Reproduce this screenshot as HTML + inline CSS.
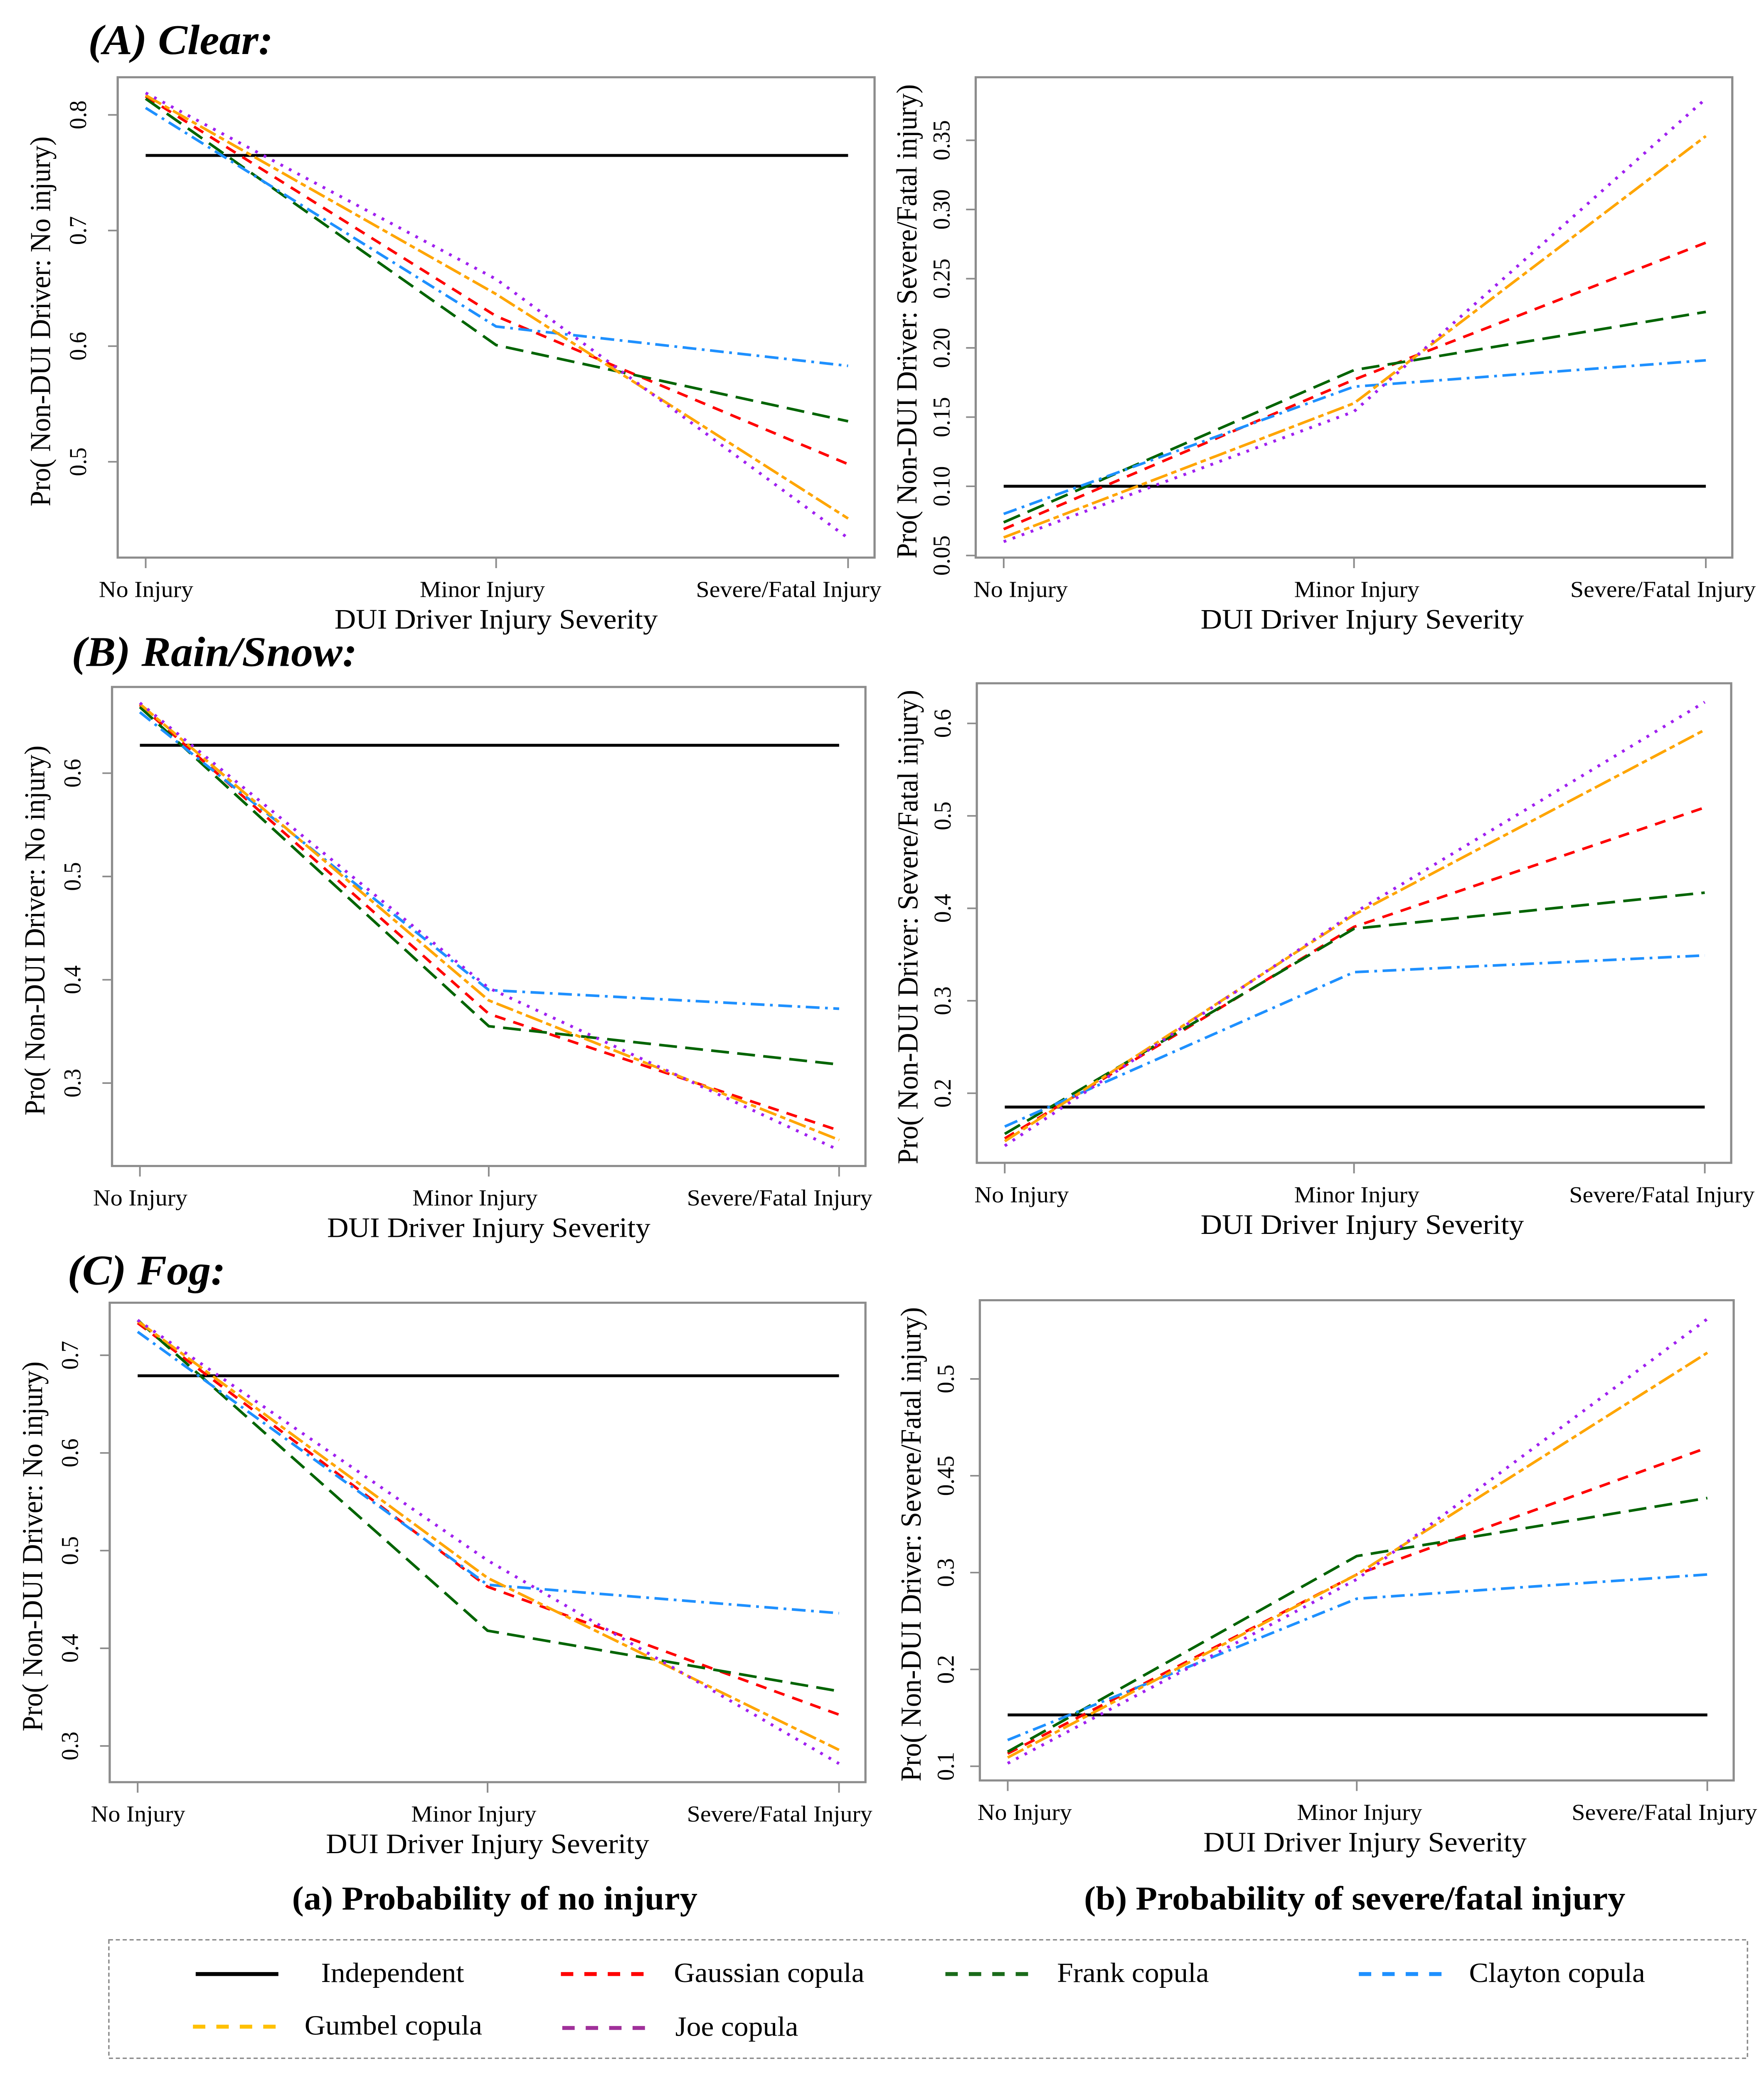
<!DOCTYPE html>
<html><head><meta charset="utf-8"><style>
html,body{margin:0;padding:0;background:#fff;width:100%;height:100%;overflow:hidden;}
svg{display:block;width:100vw;height:100vh;}
text{font-family:"Liberation Serif",serif;fill:#000;}
</style></head><body>
<svg id="fig" xmlns="http://www.w3.org/2000/svg" viewBox="0 0 1280 1579" preserveAspectRatio="none">
<rect x="0" y="0" width="1280" height="1579" fill="#fff"/>
<text x="64" y="41" font-size="32" font-weight="bold" font-style="italic">(A) Clear:</text>
<text x="52" y="506" font-size="32" font-weight="bold" font-style="italic">(B) Rain/Snow:</text>
<text x="49" y="976" font-size="32" font-weight="bold" font-style="italic">(C) Fog:</text>
<text x="359" y="1451" font-size="25.5" font-weight="bold" text-anchor="middle">(a) Probability of no injury</text>
<text x="983" y="1451" font-size="25.5" font-weight="bold" text-anchor="middle">(b) Probability of severe/fatal injury</text>
<g id="plots"></g>
<g>
<rect x="79" y="1474" width="1189" height="90" fill="none" stroke="#888" stroke-width="1" stroke-dasharray="3,2"/>
<g id="legend-items"></g>
</g>
</svg>
<script>
var categories = ["No Injury","Minor Injury","Severe/Fatal Injury"];
var seriesNames = ["Independent","Gaussian copula","Frank copula","Clayton copula","Gumbel copula","Joe copula"];
// Clear, no injury
var clearNoIndep = [0.765,0.765,0.765];
var clearNoGauss = [0.816,0.626,0.498];
var clearNoFrank = [0.814,0.601,0.535];
var clearNoClay  = [0.806,0.617,0.583];
var clearNoGumb  = [0.817,0.645,0.451];
var clearNoJoe   = [0.819,0.658,0.434];
// Clear, severe
var clearSevIndep = [0.100,0.100,0.100];
var clearSevGauss = [0.069,0.177,0.276];
var clearSevFrank = [0.074,0.184,0.226];
var clearSevClay  = [0.080,0.172,0.191];
var clearSevGumb  = [0.063,0.160,0.353];
var clearSevJoe   = [0.060,0.154,0.380];
// Rain/Snow, no injury
var rainNoIndep = [0.627,0.627,0.627];
var rainNoGauss = [0.666,0.367,0.254];
var rainNoFrank = [0.664,0.355,0.318];
var rainNoClay  = [0.659,0.390,0.372];
var rainNoGumb  = [0.667,0.380,0.245];
var rainNoJoe   = [0.668,0.392,0.235];
// Rain/Snow, severe
var rainSevIndep = [0.185,0.185,0.185];
var rainSevGauss = [0.151,0.380,0.509];
var rainSevFrank = [0.156,0.378,0.417];
var rainSevClay  = [0.164,0.331,0.349];
var rainSevGumb  = [0.148,0.393,0.593];
var rainSevJoe   = [0.143,0.395,0.623];
// Fog, no injury
var fogNoIndep = [0.679,0.679,0.679];
var fogNoGauss = [0.733,0.463,0.332];
var fogNoFrank = [0.736,0.418,0.356];
var fogNoClay  = [0.724,0.465,0.436];
var fogNoGumb  = [0.735,0.472,0.296];
var fogNoJoe   = [0.736,0.490,0.282];
// Fog, severe
var fogSevIndep = [0.153,0.153,0.153];
var fogSevGauss = [0.113,0.298,0.429];
var fogSevFrank = [0.115,0.317,0.377];
var fogSevClay  = [0.127,0.273,0.298];
var fogSevGumb  = [0.109,0.298,0.527];
var fogSevJoe   = [0.103,0.293,0.562];
// tick values and labels
var ticksClearNo = [0.5,0.6,0.7,0.8];
var ticksClearNoLabels = ["0.5","0.6","0.7","0.8"];
var ticksClearSev = [0.05,0.10,0.15,0.20,0.25,0.30,0.35];
var ticksClearSevLabels = ["0.05","0.10","0.15","0.20","0.25","0.30","0.35"];
var ticksRainNo = [0.3,0.4,0.5,0.6];
var ticksRainNoLabels = ["0.3","0.4","0.5","0.6"];
var ticksRainSev = [0.2,0.3,0.4,0.5,0.6];
var ticksRainSevLabels = ["0.2","0.3","0.4","0.5","0.6"];
var ticksFogNo = [0.3,0.4,0.5,0.6,0.7];
var ticksFogNoLabels = ["0.3","0.4","0.5","0.6","0.7"];
var ticksFogSev = [0.1,0.2,0.3,0.4,0.5];
var ticksFogSevLabels = ["0.1","0.2","0.3","0.45","0.5"];

var colors = ["#000000","#ff0000","#006400","#1e90ff","#ffa500","#a020f0"];
var legendColors = ["#000000","#ff0000","#1a6b1a","#1e90ff","#ffc000","#a0309a"];
var dashes = ["", "8,6", "13,6", "10,4,2,4", "13,3,4,3", "2,5"];
var widths = [2.2,2,2,2,2,2.2];
var NS = "http://www.w3.org/2000/svg";

var panels = [
 {key:"clear-no", x0:85.4,x1:634.6,y0:58.7,y1:423.7, v0:0.8,p0:87.3, v1:0.5,p1:350.9, ticks:ticksClearNo, labels:ticksClearNoLabels, lx:0,
  series:[clearNoIndep,clearNoGauss,clearNoFrank,clearNoClay,clearNoGumb,clearNoJoe], ytitle:"Pro( Non-DUI Driver: No injury)"},
 {key:"clear-sev", x0:708,x1:1257,y0:58.7,y1:423.7, v0:0.35,p0:106.6, v1:0.05,p1:422.1, ticks:ticksClearSev, labels:ticksClearSevLabels, lx:12,
  series:[clearSevIndep,clearSevGauss,clearSevFrank,clearSevClay,clearSevGumb,clearSevJoe], ytitle:"Pro( Non-DUI Driver: Severe/Fatal injury)"},
 {key:"rain-no", x0:81.3,x1:628,y0:522,y1:886, v0:0.6,p0:587.5, v1:0.3,p1:823, ticks:ticksRainNo, labels:ticksRainNoLabels, lx:0,
  series:[rainNoIndep,rainNoGauss,rainNoFrank,rainNoClay,rainNoGumb,rainNoJoe], ytitle:"Pro( Non-DUI Driver: No injury)"},
 {key:"rain-sev", x0:708.8,x1:1256.2,y0:519.2,y1:883.6, v0:0.6,p0:549.7, v1:0.2,p1:830.7, ticks:ticksRainSev, labels:ticksRainSevLabels, lx:12,
  series:[rainSevIndep,rainSevGauss,rainSevFrank,rainSevClay,rainSevGumb,rainSevJoe], ytitle:"Pro( Non-DUI Driver: Severe/Fatal injury)"},
 {key:"fog-no", x0:79.6,x1:628,y0:989.9,y1:1354.2, v0:0.7,p0:1029.8, v1:0.3,p1:1326.7, ticks:ticksFogNo, labels:ticksFogNoLabels, lx:0,
  series:[fogNoIndep,fogNoGauss,fogNoFrank,fogNoClay,fogNoGumb,fogNoJoe], ytitle:"Pro( Non-DUI Driver: No injury)"},
 {key:"fog-sev", x0:711,x1:1258,y0:988,y1:1352.9, v0:0.5,p0:1047.8, v1:0.1,p1:1342.1, ticks:ticksFogSev, labels:ticksFogSevLabels, lx:12,
  series:[fogSevIndep,fogSevGauss,fogSevFrank,fogSevClay,fogSevGumb,fogSevJoe], ytitle:"Pro( Non-DUI Driver: Severe/Fatal injury)"}
];
var xFracs = [0.037,0.5,0.965];

function mk(tag, attrs){var e=document.createElementNS(NS,tag);for(var k in attrs)e.setAttribute(k,attrs[k]);return e;}

var root = document.getElementById("plots");
panels.forEach(function(p){
  var g = mk("g",{});
  
  
  root.appendChild(g);
  function xs(i){return p.x0 + xFracs[i]*(p.x1-p.x0);}
  function ys(v){return p.p0 + (v-p.v0)*(p.p1-p.p0)/(p.v1-p.v0);}
  var box = mk("rect",{x:p.x0,y:p.y0,width:p.x1-p.x0,height:p.y1-p.y0,fill:"none",stroke:"#8c8c8c","stroke-width":1.6});
  
  
  g.appendChild(box);
  categories.forEach(function(c,i){
    var x = xs(i);
    var t = mk("line",{x1:x,x2:x,y1:p.y1,y2:p.y1+8,stroke:"#8c8c8c","stroke-width":1.2});
    
    
    g.appendChild(t);
    var anchor = i==0?"start":(i==2?"end":"middle");
    var tx = i==0? x-34+p.lx : (i==2? p.x1+5+p.lx : x-10+p.lx);
    var lb = mk("text",{x:tx,y:p.y1+30,"font-size":17.5,"text-anchor":anchor});
    lb.textContent = c;
    
    
    g.appendChild(lb);
  });
  var xt = mk("text",{x:(p.x0+p.x1)/2+p.lx*0.5,y:p.y1+54,"font-size":21.5,"text-anchor":"middle"});
  xt.textContent = "DUI Driver Injury Severity";
  
  
  g.appendChild(xt);
  p.ticks.forEach(function(v,i){
    var y = ys(v);
    var t = mk("line",{x1:p.x0-7,x2:p.x0,y1:y,y2:y,stroke:"#8c8c8c","stroke-width":1.2});
    
    
    g.appendChild(t);
    var lx = p.x0-(p.lx?19:23);
    var lb = mk("text",{x:lx,y:y,"font-size":17.5,"text-anchor":"middle",transform:"rotate(-90 "+lx+" "+y+")"});
    lb.textContent = p.labels[i];
    
    
    g.appendChild(lb);
  });
  var tyx = p.x0-(p.lx?43:49), tyy=(p.y0+p.y1)/2+3;
  var yt = mk("text",{x:tyx,y:tyy,"font-size":21,"text-anchor":"middle",transform:"rotate(-90 "+tyx+" "+tyy+")"});
  yt.textContent = p.ytitle;
  
  
  g.appendChild(yt);
  p.series.forEach(function(vals,s){
    var pts = vals.map(function(v,i){return xs(i).toFixed(1)+","+ys(v).toFixed(1);}).join(" ");
    var pl = mk("polyline",{points:pts,fill:"none",stroke:colors[s],"stroke-width":widths[s]});
    if(dashes[s]) pl.setAttribute("stroke-dasharray",dashes[s]);
    
    
    g.appendChild(pl);
  });
});

var legendPos = [[142,1500,233],[407,1500,489],[686,1500,767],[986,1500,1066],[140,1540,221],[408,1541,490]];
var legendRoot = document.getElementById("legend-items");
seriesNames.forEach(function(n,s){
  var lp = legendPos[s];
  var ln = mk("line",{x1:lp[0],x2:lp[0]+60,y1:lp[1],y2:lp[1],stroke:legendColors[s],"stroke-width":3});
  if(s>0) ln.setAttribute("stroke-dasharray","9,8");
  
  
  legendRoot.appendChild(ln);
  var tx = mk("text",{x:lp[2],y:lp[1]+6,"font-size":21});
  tx.textContent = n;
  
  
  legendRoot.appendChild(tx);
});
</script>
</body></html>
